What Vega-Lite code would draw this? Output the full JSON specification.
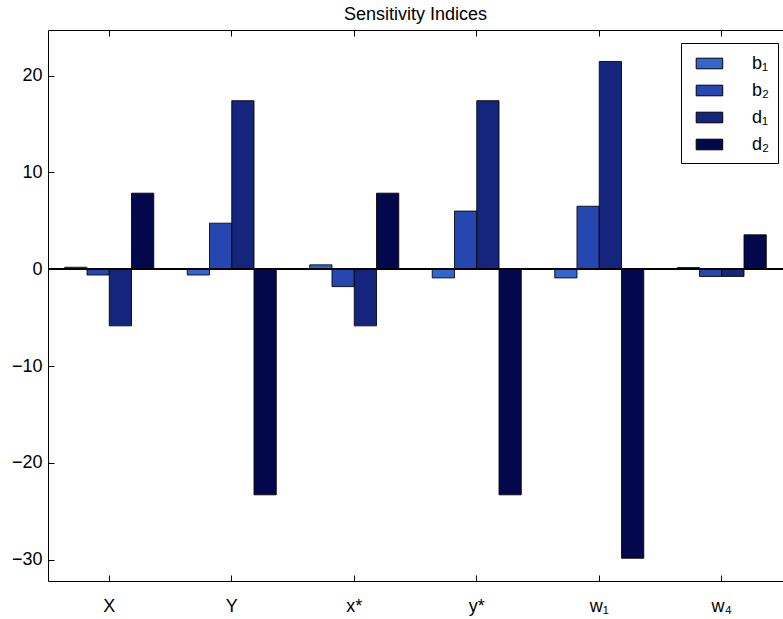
{
  "$schema": "https://vega.github.io/schema/vega-lite/v6.json",
  "autosize": {"type": "none"},
  "padding": {"left": 48, "top": 30, "right": 0, "bottom": 38},
  "width": 735,
  "height": 551,
  "background": "white",
  "title": {"text": "Sensitivity Indices", "fontSize": 18, "fontWeight": "normal", "font": "Liberation Sans", "color": "black", "offset": 6},
  "data": {"values": [
    {"cat": "X", "series": "b₁", "value": 0.2},
    {"cat": "X", "series": "b₂", "value": -0.6},
    {"cat": "X", "series": "d₁", "value": -5.85},
    {"cat": "X", "series": "d₂", "value": 7.85},
    {"cat": "Y", "series": "b₁", "value": -0.6},
    {"cat": "Y", "series": "b₂", "value": 4.75},
    {"cat": "Y", "series": "d₁", "value": 17.4},
    {"cat": "Y", "series": "d₂", "value": -23.3},
    {"cat": "x*", "series": "b₁", "value": 0.45},
    {"cat": "x*", "series": "b₂", "value": -1.8},
    {"cat": "x*", "series": "d₁", "value": -5.85},
    {"cat": "x*", "series": "d₂", "value": 7.85},
    {"cat": "y*", "series": "b₁", "value": -0.9},
    {"cat": "y*", "series": "b₂", "value": 6.0},
    {"cat": "y*", "series": "d₁", "value": 17.4},
    {"cat": "y*", "series": "d₂", "value": -23.3},
    {"cat": "w₁", "series": "b₁", "value": -0.9},
    {"cat": "w₁", "series": "b₂", "value": 6.5},
    {"cat": "w₁", "series": "d₁", "value": 21.45},
    {"cat": "w₁", "series": "d₂", "value": -29.85},
    {"cat": "w₄", "series": "b₁", "value": 0.17},
    {"cat": "w₄", "series": "b₂", "value": -0.75},
    {"cat": "w₄", "series": "d₁", "value": -0.75},
    {"cat": "w₄", "series": "d₂", "value": 3.55}
  ]},
  "layer": [
    {
      "mark": {"type": "bar", "stroke": "black", "strokeWidth": 1, "strokeOpacity": 0.85},
      "encoding": {
        "x": {"field": "cat", "type": "nominal", "sort": ["X", "Y", "x*", "y*", "w₁", "w₄"],
              "scale": {"paddingInner": 0.273, "paddingOuter": 0.1365},
              "axis": {"title": null, "labelAngle": 0, "tickSize": -6, "labelPadding": 22, "labelFontSize": 18, "labelFont": "Liberation Sans", "labelColor": "black", "domainColor": "black", "tickColor": "black", "labelBaseline": "top"}},
        "xOffset": {"field": "series", "type": "nominal", "sort": ["b₁", "b₂", "d₁", "d₂"], "scale": {"paddingInner": 0, "paddingOuter": 0}},
        "y": {"field": "value", "type": "quantitative",
              "scale": {"domain": [-32.2, 24.7], "nice": false, "zero": false},
              "axis": {"title": null, "values": [-30, -20, -10, 0, 10, 20], "grid": false, "tickSize": -6, "labelPadding": 12, "labelFontSize": 18, "labelFont": "Liberation Sans", "labelColor": "black", "domainColor": "black", "tickColor": "black"}},
        "fill": {"field": "series", "type": "nominal",
                 "scale": {"domain": ["b₁", "b₂", "d₁", "d₂"], "range": ["#3366CC", "#2647B0", "#15257D", "#03074B"]},
                 "legend": {"title": null, "orient": "none", "legendX": 633, "legendY": 13,
                            "symbolType": "M-0.5,-0.5H2V0.5H-0.5Z", "symbolSize": 450,
                            "symbolStrokeColor": "black", "symbolStrokeWidth": 1, "symbolOpacity": 1,
                            "labelFontSize": 18, "labelFont": "Liberation Sans", "labelColor": "black",
                            "labelOffset": 39, "rowPadding": 6, "padding": 9,
                            "strokeColor": "black", "fillColor": "white"}}
      }
    },
    {
      "mark": {"type": "rule", "color": "black", "strokeWidth": 1, "opacity": 0.8},
      "encoding": {"y": {"datum": 0}}
    },
    {
      "mark": {"type": "point", "opacity": 0},
      "encoding": {
        "x": {"field": "cat", "type": "nominal", "sort": ["X", "Y", "x*", "y*", "w₁", "w₄"],
              "axis": {"orient": "top", "labels": false, "title": null, "tickSize": -6, "domainColor": "black", "tickColor": "black"}},
        "y": {"field": "value", "type": "quantitative"}
      }
    }
  ],
  "resolve": {"axis": {"x": "independent"}},
  "config": {"view": {"stroke": null}}
}
